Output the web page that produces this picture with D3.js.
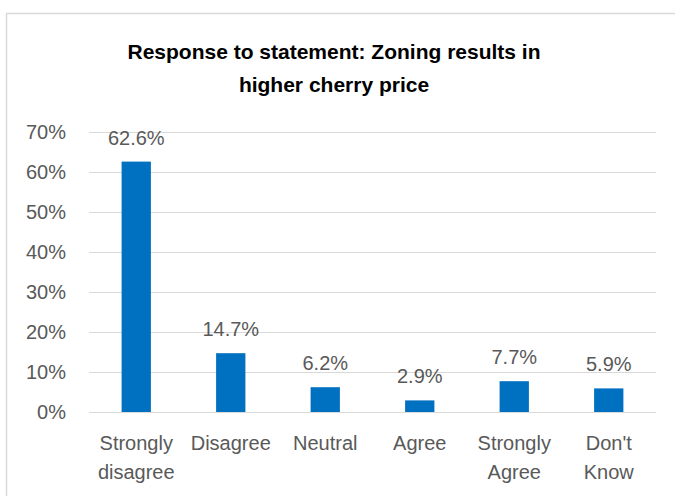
<!DOCTYPE html>
<html>
<head>
<meta charset="UTF-8" />
<script src="https://d3js.org/d3.v7.min.js"></script>
<style>
  body { margin: 0; background: #fff; }
  text { font-family: "Liberation Sans", Arial, sans-serif; }
</style>
</head>
<body>
<div id="chart"></div>
<script>
  // data
  const categories = [['Strongly', 'disagree'], ['Disagree'], ['Neutral'], ['Agree'], ['Strongly', 'Agree'], ["Don't", 'Know']]
  const values = [62.6, 14.7, 6.2, 2.9, 7.7, 5.9]
  const yTicks = [0, 10, 20, 30, 40, 50, 60, 70]
  const titleLines = ['Response to statement: Zoning results in', 'higher cherry price']

  const W = 675, H = 496
  const margin = { top: 132, right: 19, bottom: 84, left: 89 }
  const width = W - margin.left - margin.right,
        height = H - margin.top - margin.bottom

  const svg = d3.select('#chart').append('svg')
      .attr('width', W).attr('height', H)

  // chart border
  svg.append('rect')
      .attr('x', 6.5).attr('y', 13.5)
      .attr('width', 720).attr('height', 520)
      .attr('fill', 'none').attr('stroke', '#d9d9d9').attr('stroke-width', 1.5)

  // title
  svg.append('g').selectAll('text')
      .data(titleLines)
      .join('text')
      .attr('x', 334)
      .attr('y', (d, i) => 59 + i * 33)
      .attr('text-anchor', 'middle')
      .style('font-size', '21px')
      .style('font-weight', 'bold')
      .attr('fill', '#000')
      .text(d => d)

  const g = svg.append('g').attr('transform', `translate(${margin.left},${margin.top})`)

  const x = d3.scaleBand()
      .domain(d3.range(values.length))
      .range([0, width])
      .paddingInner(0.69)
      .paddingOuter(0.345)

  const y = d3.scaleLinear().domain([0, 70]).range([height, 0])

  // gridlines
  g.append('g')
      .call(d3.axisLeft(y).tickValues(yTicks).tickSize(-width).tickFormat(''))
      .call(a => a.select('.domain').remove())
      .call(a => a.selectAll('line').attr('stroke', '#d9d9d9'))

  // y labels
  g.append('g')
      .call(d3.axisLeft(y).tickValues(yTicks).tickSize(0).tickPadding(23).tickFormat(d => d + '%'))
      .call(a => a.select('.domain').remove())
      .call(a => a.selectAll('text')
          .style('font-size', '20px')
          .style('font-family', '"Liberation Sans", Arial, sans-serif')
          .attr('fill', '#595959'))

  // bars
  g.selectAll('.bar')
      .data(values)
      .join('rect')
      .attr('class', 'bar')
      .attr('x', (d, i) => x(i))
      .attr('y', d => y(d))
      .attr('width', x.bandwidth())
      .attr('height', d => height - y(d))
      .attr('fill', '#0070c0')

  // value labels
  g.selectAll('.val')
      .data(values)
      .join('text')
      .attr('class', 'val')
      .attr('x', (d, i) => x(i) + x.bandwidth() / 2)
      .attr('y', d => y(d) - 17)
      .attr('text-anchor', 'middle')
      .style('font-size', '20px')
      .attr('fill', '#595959')
      .text(d => d.toFixed(1) + '%')

  // category labels
  const cat = g.selectAll('.cat')
      .data(categories)
      .join('text')
      .attr('class', 'cat')
      .attr('text-anchor', 'middle')
      .style('font-size', '20px')
      .attr('fill', '#595959')
  cat.selectAll('tspan')
      .data((d, i) => d.map(t => ({ t, i })))
      .join('tspan')
      .attr('x', d => x(d.i) + x.bandwidth() / 2)
      .attr('y', (d, j) => height + 38 + j * 29)
      .text(d => d.t)
</script>
</body>
</html>
